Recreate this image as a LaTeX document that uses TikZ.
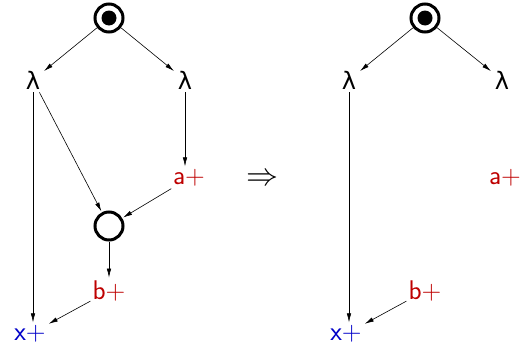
\documentclass[tikz,border=0pt]{standalone}
\usepackage{fontspec}
\usepackage{graphicx}
\newfontfamily\grk{DejaVu Sans}
\usetikzlibrary{arrows.meta}
\definecolor{myred}{RGB}{190,0,0}
\definecolor{myblue}{RGB}{0,0,200}
\begin{document}
\begin{tikzpicture}[x=1pt,y=-1pt,
  lab/.style={font=\sffamily\fontsize{27}{30}\selectfont, inner sep=2pt},
  lam/.style={font=\grk\fontsize{24}{26}\selectfont, inner sep=3pt},
  st/.style={circle, draw, line width=3pt, minimum size=28pt, inner sep=0pt},
  arr/.style={-{Latex[length=9pt,width=4.5pt]}, line width=0.6pt, shorten >=1pt}]
\useasboundingbox (0,0) rectangle (524,351);
% left
\node[st] (i1) at (109,18) {};
\fill (i1.center) circle (7.5pt);
\node[lam] (l1) at (33,80) {λ};
\node[lam] (r1) at (185,80) {λ};
\node[lab, text=myred] (a1) at (189,178) {a+};
\node[st] (c1) at (109,226) {};
\node[lab, text=myred] (b1) at (109,291) {b+};
\node[lab, text=myblue] (x1) at (30,334) {x+};
\draw[arr] (i1) -- (l1);
\draw[arr] (i1) -- (r1);
\draw[arr] (l1.south) -- (l1.south |- x1.north);
\draw[arr] (l1) -- (c1);
\draw[arr] (r1.south) -- (r1.south |- a1.north);
\draw[arr] (a1) -- (c1);
\draw[arr] (c1) -- (b1);
\draw[arr] (b1) -- (x1);
% arrow
\node (imp) at (262,180) {\scalebox{3.2}{$\Rightarrow$}};
% right
\node[st] (i2) at (425,18) {};
\fill (i2.center) circle (7.5pt);
\node[lam] (l2) at (349,80) {λ};
\node[lam] (r2) at (502,80) {λ};
\node[lab, text=myred] (a2) at (505,178) {a+};
\node[lab, text=myred] (b2) at (425,291) {b+};
\node[lab, text=myblue] (x2) at (346,334) {x+};
\draw[arr] (i2) -- (l2);
\draw[arr] (i2) -- (r2);
\draw[arr] (l2.south) -- (l2.south |- x2.north);
\draw[arr] (b2) -- (x2);
\end{tikzpicture}
\end{document}
